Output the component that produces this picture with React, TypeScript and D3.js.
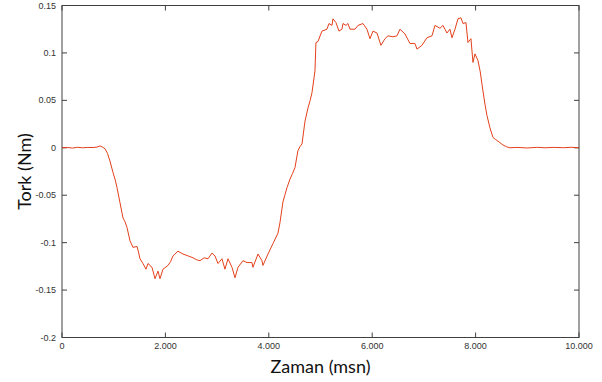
import * as d3 from "d3";

// time (ms) and torque (Nm)
const timeMs = [
  0, 100, 200, 300, 400, 500, 600, 680, 735, 790, 832, 880, 928, 986, 1030, 1064, 1122, 1180, 1220,
  1257, 1315, 1373, 1451, 1480, 1509, 1567, 1625, 1663, 1741, 1799, 1857, 1895, 1953, 2050, 2100,
  2147, 2243, 2340, 2440, 2534, 2600, 2669, 2750, 2824, 2901, 2959, 3017, 3094, 3152, 3210, 3288,
  3346, 3404, 3500, 3578, 3675, 3694, 3791, 3868, 3887, 3984, 4081, 4177, 4216, 4274, 4310, 4352,
  4410, 4460, 4506, 4564, 4600, 4642, 4700, 4758, 4800, 4835, 4893, 4912, 4951, 5028, 5125, 5164,
  5222, 5241, 5299, 5357, 5415, 5435, 5493, 5531, 5570, 5667, 5725, 5821, 5899, 5957, 6015, 6092,
  6169, 6247, 6305, 6402, 6479, 6537, 6634, 6730, 6827, 6866, 6962, 7059, 7156, 7214, 7311, 7369,
  7446, 7504, 7543, 7601, 7659, 7717, 7756, 7814, 7852, 7910, 7949, 7988, 8046, 8090, 8123, 8181,
  8220, 8278, 8336, 8380, 8432, 8529, 8600, 8665, 8800, 9000, 9200, 9341, 9500, 9700, 9850, 10000,
];
const torque = [
  0, 0.0004, -0.0003, 0.0005, 0, 0.0004, 0.0002, 0.0008, 0.002, 0.0005, -0.001, -0.006, -0.014,
  -0.026, -0.034, -0.042, -0.058, -0.074, -0.078, -0.084, -0.098, -0.105, -0.104, -0.11, -0.117,
  -0.122, -0.128, -0.122, -0.126, -0.138, -0.13, -0.138, -0.128, -0.124, -0.12, -0.114, -0.109,
  -0.112, -0.114, -0.116, -0.118, -0.119, -0.116, -0.117, -0.111, -0.114, -0.122, -0.117, -0.128,
  -0.117, -0.126, -0.137, -0.126, -0.119, -0.121, -0.121, -0.126, -0.112, -0.119, -0.124, -0.112,
  -0.101, -0.09, -0.079, -0.057, -0.05, -0.042, -0.033, -0.027, -0.021, -0.003, 0.001, 0.004,
  0.028, 0.042, 0.05, 0.058, 0.081, 0.111, 0.112, 0.123, 0.125, 0.131, 0.129, 0.136, 0.132, 0.123,
  0.125, 0.131, 0.129, 0.131, 0.125, 0.125, 0.129, 0.131, 0.125, 0.115, 0.123, 0.121, 0.108, 0.115,
  0.118, 0.117, 0.118, 0.125, 0.12, 0.11, 0.11, 0.104, 0.108, 0.116, 0.118, 0.129, 0.126, 0.129,
  0.121, 0.125, 0.116, 0.125, 0.136, 0.137, 0.131, 0.132, 0.111, 0.115, 0.09, 0.099, 0.092, 0.08,
  0.067, 0.046, 0.034, 0.021, 0.011, 0.009, 0.007, 0.003, 0.001, 0, 0.0004, -0.0002, 0.0005, 0,
  0.0004, 0.0001, 0.0005, 0,
];
const xTicks = [0, 2000, 4000, 6000, 8000, 10000];
const xTickLabels = ["0", "2.000", "4.000", "6.000", "8.000", "10.000"];
const yTicks = [0.15, 0.1, 0.05, 0, -0.05, -0.1, -0.15, -0.2];
const yTickLabels = ["0.15", "0.1", "0.05", "0", "-0.05", "-0.1", "-0.15", "-0.2"];

const W = 602;
const H = 382;
const left = 62;
const right = 579;
const top = 5.5;
const bottom = 337.5;

export default function App() {
  const x = d3.scaleLinear().domain([0, 10000]).range([left, right]);
  const y = d3.scaleLinear().domain([-0.2, 0.15]).range([bottom, top]);
  const points: [number, number][] = timeMs.map((t, i) => [t, torque[i]]);
  const line = d3
    .line<[number, number]>()
    .x((d) => x(d[0]))
    .y((d) => y(d[1]));
  const tick = 5;
  const frame = "#404040";

  return (
    <svg
      width={W}
      height={H}
      style={{ position: "absolute", left: 0, top: 0, background: "#fff" }}
    >
      <rect x={left} y={top} width={right - left} height={bottom - top} fill="none" stroke={frame} strokeWidth={1} />
      {xTicks.map((t, i) => (
        <g key={"x" + t}>
          <line x1={x(t)} x2={x(t)} y1={bottom} y2={bottom - tick} stroke={frame} />
          <line x1={x(t)} x2={x(t)} y1={top} y2={top + tick} stroke={frame} />
          <text
            x={x(t)}
            y={bottom + 11}
            textAnchor="middle"
            fontFamily="'Liberation Sans', sans-serif"
            fontSize={9}
            fill="#333"
          >
            {xTickLabels[i]}
          </text>
        </g>
      ))}
      {yTicks.map((v, i) => (
        <g key={"y" + v}>
          <line x1={left} x2={left + tick} y1={y(v)} y2={y(v)} stroke={frame} />
          <line x1={right} x2={right - tick} y1={y(v)} y2={y(v)} stroke={frame} />
          <text
            x={left - 6}
            y={y(v) + 3}
            textAnchor="end"
            fontFamily="'Liberation Sans', sans-serif"
            fontSize={9}
            fill="#333"
          >
            {yTickLabels[i]}
          </text>
        </g>
      ))}
      <path d={line(points) ?? ""} fill="none" stroke="#e4401a" strokeWidth={1} />
      <text
        x={(left + right) / 2}
        y={373}
        textAnchor="middle"
        fontFamily="Lato, sans-serif"
        fontSize={18}
        fill="#111"
      >
        Zaman (msn)
      </text>
      <text
        transform={`translate(31, ${(top + bottom) / 2}) rotate(-90)`}
        textAnchor="middle"
        fontFamily="Lato, sans-serif"
        fontSize={18}
        fill="#111"
      >
        Tork (Nm)
      </text>
    </svg>
  );
}
